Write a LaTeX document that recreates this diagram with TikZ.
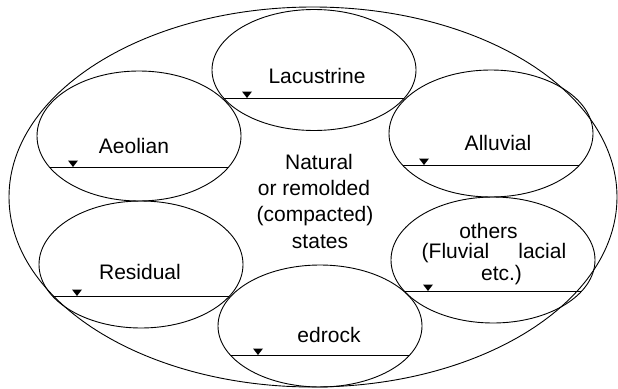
\documentclass[tikz,border=0pt]{standalone}
\usepackage{fontspec}
\setmainfont{Liberation Sans}
\usetikzlibrary{shapes.geometric}
\begin{document}
\begin{tikzpicture}[x=1pt,y=-1pt,line width=0.9pt,
  basin/.style={draw,ellipse,minimum width=204pt,inner sep=0pt},
  lbl/.style={font=\fontsize{21}{25}\selectfont,anchor=base,inner sep=0pt},
  wt/.style={fill=black,draw=none}]
\useasboundingbox (0,0) rectangle (618,388);

% enclosing domain
\node[draw,ellipse,minimum width=608pt,minimum height=380pt,inner sep=0pt] (outer) at (313,197) {};

% deposit types
\node[basin,minimum height=121pt] (lac) at (314,70) {};
\node[basin,minimum height=130pt] (aeo) at (139,136) {};
\node[basin,minimum height=127pt] (all) at (491,133.5) {};
\node[basin,minimum height=127pt] (res) at (141,264.5) {};
\node[basin,minimum height=126pt] (oth) at (493,260) {};
\node[basin,minimum height=122pt] (bed) at (320,326) {};

% water tables: chords clipped to each ellipse
\begin{scope}
  \clip (lac.center) ellipse [x radius=102pt,y radius=60.5pt];
  \draw ([xshift=-110pt,yshift=-28pt]lac.center) -- ([xshift=110pt,yshift=-28pt]lac.center);
\end{scope}
\begin{scope}
  \clip (aeo.center) ellipse [x radius=102pt,y radius=65pt];
  \draw ([xshift=-110pt,yshift=-31pt]aeo.center) -- ([xshift=110pt,yshift=-31pt]aeo.center);
\end{scope}
\begin{scope}
  \clip (all.center) ellipse [x radius=102pt,y radius=63.5pt];
  \draw ([xshift=-110pt,yshift=-31.5pt]all.center) -- ([xshift=110pt,yshift=-31.5pt]all.center);
\end{scope}
\begin{scope}
  \clip (res.center) ellipse [x radius=102pt,y radius=63.5pt];
  \draw ([xshift=-110pt,yshift=-31.5pt]res.center) -- ([xshift=110pt,yshift=-31.5pt]res.center);
\end{scope}
\begin{scope}
  \clip (oth.center) ellipse [x radius=102pt,y radius=63pt];
  \draw ([xshift=-110pt,yshift=-31pt]oth.center) -- ([xshift=110pt,yshift=-31pt]oth.center);
\end{scope}
\begin{scope}
  \clip (bed.center) ellipse [x radius=102pt,y radius=61pt];
  \draw ([xshift=-110pt,yshift=-29pt]bed.center) -- ([xshift=110pt,yshift=-29pt]bed.center);
\end{scope}

% water-table markers
\fill[wt] (247,98) -- ++(-5,-6.5) -- ++(10,0) -- cycle;
\fill[wt] (73,167) -- ++(-5,-6.5) -- ++(10,0) -- cycle;
\fill[wt] (424,165) -- ++(-5,-6.5) -- ++(10,0) -- cycle;
\fill[wt] (77,296) -- ++(-5,-6.5) -- ++(10,0) -- cycle;
\fill[wt] (428,291) -- ++(-5,-6.5) -- ++(10,0) -- cycle;
\fill[wt] (258,355) -- ++(-5,-6.5) -- ++(10,0) -- cycle;

% labels
\node[lbl] (tlac) at (317,83) {Lacustrine};
\node[lbl] (taeo) at (134,153) {Aeolian};
\node[lbl] (tall) at (498,150) {Alluvial};
\node[lbl] (tres) at (140,279) {Residual};
\node[lbl] (tbed) at (329,342) {edrock};
\node[lbl] (toth1) at (488.5,238) {others};
\node[lbl] (toth2) at (494,258) {(Fluvial\hspace{29pt}lacial};
\node[lbl] (toth3) at (501.5,280) {etc.)};

\node[lbl] (c1) at (319,169) {Natural};
\node[lbl] (c2) at (314,195) {or remolded};
\node[lbl] (c3) at (315,221) {(compacted)};
\node[lbl] (c4) at (320,248) {states};
\end{tikzpicture}
\end{document}
